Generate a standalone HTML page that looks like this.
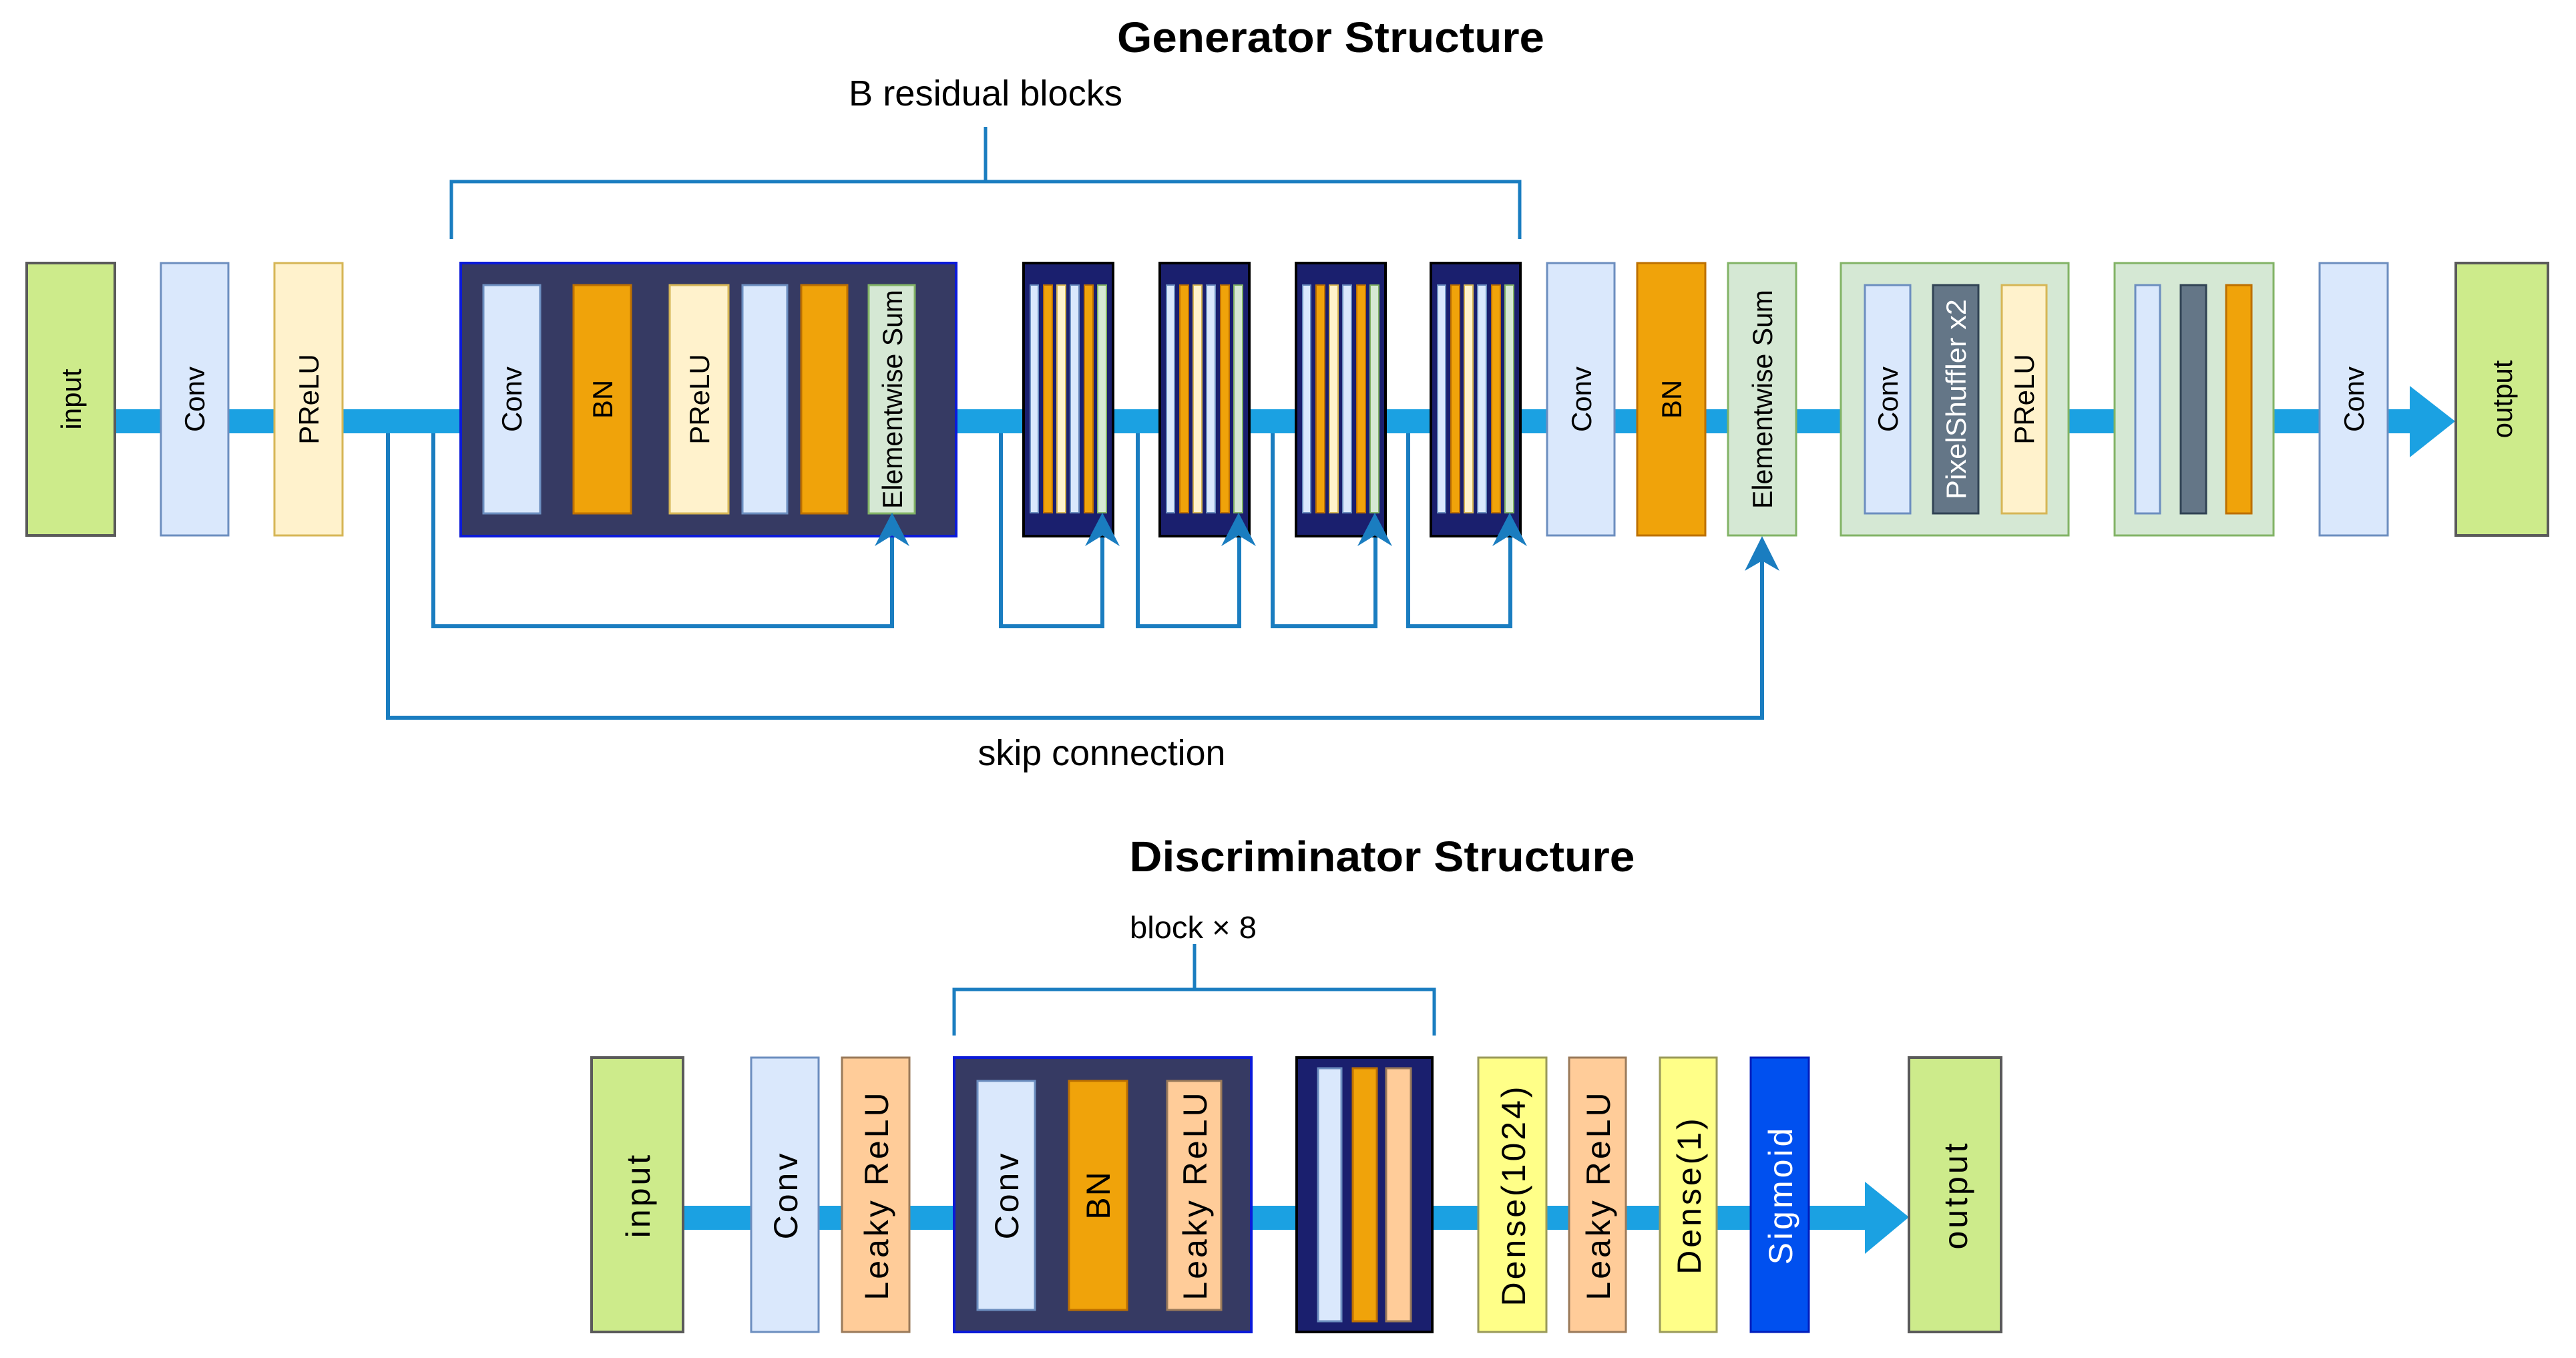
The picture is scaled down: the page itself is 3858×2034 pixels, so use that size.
<!DOCTYPE html>
<html><head><meta charset="utf-8"><style>
html,body{margin:0;padding:0;background:#fff;}
svg{display:block;}
text{font-family:"Liberation Sans",sans-serif;}
</style></head><body>
<svg width="3858" height="2034" viewBox="0 0 3858 2034" xmlns="http://www.w3.org/2000/svg">
<rect width="3858" height="2034" fill="#fff"/>

<!-- ================= GENERATOR ================= -->
<text x="1993" y="78" font-size="64" font-weight="bold" text-anchor="middle" textLength="640" lengthAdjust="spacingAndGlyphs">Generator Structure</text>
<text x="1476" y="158" font-size="54" text-anchor="middle" textLength="410" lengthAdjust="spacingAndGlyphs">B residual blocks</text>
<polyline points="676,358 676,272 2276,272 2276,358" fill="none" stroke="#1a7dc0" stroke-width="5"/>
<line x1="1476" y1="190" x2="1476" y2="272" stroke="#1a7dc0" stroke-width="5"/>

<rect x="172" y="613" width="3440" height="36" fill="#1ba1e2"/>
<polygon points="3609,578 3677,631 3609,685" fill="#1ba1e2"/>

<g fill="none" stroke="#1a7dc0" stroke-width="6">
<polyline points="649,649 649,938 1336,938 1336,790"/>
<polyline points="581,649 581,1075 2639,1075 2639,820"/>
<polyline points="1499,649 1499,938 1651,938 1651,790"/>
<polyline points="1704,649 1704,938 1856,938 1856,790"/>
<polyline points="1906,649 1906,938 2060,938 2060,790"/>
<polyline points="2109,649 2109,938 2262,938 2262,790"/>
</g>

<rect x="40" y="394" width="132" height="408" fill="#cdeb8b" stroke="#5a5a5a" stroke-width="4"/>
<text transform="translate(121,598) rotate(-90)" font-size="42" text-anchor="middle">input</text>
<rect x="241" y="394" width="101" height="408" fill="#dae8fc" stroke="#6c8ebf" stroke-width="3"/>
<text transform="translate(306,598) rotate(-90)" font-size="42" text-anchor="middle">Conv</text>
<rect x="411" y="394" width="102" height="408" fill="#fff2cc" stroke="#d6b656" stroke-width="3"/>
<text transform="translate(477,598) rotate(-90)" font-size="42" text-anchor="middle">PReLU</text>

<rect x="690" y="394" width="742" height="409" fill="#363a63" stroke="#0b1ad8" stroke-width="4"/>
<rect x="724" y="427" width="85" height="342" fill="#dae8fc" stroke="#6c8ebf" stroke-width="3"/>
<text transform="translate(781,598) rotate(-90)" font-size="42" text-anchor="middle">Conv</text>
<rect x="859" y="427" width="86" height="342" fill="#f0a30a" stroke="#bd7000" stroke-width="3"/>
<text transform="translate(917,598) rotate(-90)" font-size="42" text-anchor="middle">BN</text>
<rect x="1003" y="427" width="88" height="342" fill="#fff2cc" stroke="#d6b656" stroke-width="3"/>
<text transform="translate(1062,598) rotate(-90)" font-size="42" text-anchor="middle">PReLU</text>
<rect x="1112" y="427" width="67" height="342" fill="#dae8fc" stroke="#6c8ebf" stroke-width="3"/>
<rect x="1200" y="427" width="69" height="342" fill="#f0a30a" stroke="#bd7000" stroke-width="3"/>
<rect x="1301" y="427" width="69" height="342" fill="#d5e8d4" stroke="#82b366" stroke-width="3"/>
<text transform="translate(1351,598) rotate(-90)" font-size="42" text-anchor="middle" textLength="328" lengthAdjust="spacingAndGlyphs">Elementwise Sum</text>

<g id="sb">
<rect x="1533" y="394" width="134" height="409" fill="#1a1f6e" stroke="#000" stroke-width="4"/>
<rect x="1543" y="427" width="12" height="341" fill="#dae8fc" stroke="#6c8ebf" stroke-width="2"/>
<rect x="1563" y="427" width="13" height="341" fill="#f0a30a" stroke="#bd7000" stroke-width="2"/>
<rect x="1583" y="427" width="13" height="341" fill="#fff2cc" stroke="#d6b656" stroke-width="2"/>
<rect x="1603" y="427" width="13" height="341" fill="#dae8fc" stroke="#6c8ebf" stroke-width="2"/>
<rect x="1624" y="427" width="13" height="341" fill="#f0a30a" stroke="#bd7000" stroke-width="2"/>
<rect x="1644" y="427" width="13" height="341" fill="#d5e8d4" stroke="#82b366" stroke-width="2"/>
<polygon points="1651,768 1677,818 1651,802 1625,818" fill="#1a7dc0"/>
</g>
<use href="#sb" x="204"/>
<use href="#sb" x="408"/>
<use href="#sb" x="610"/>
<polygon points="1336,768 1362,818 1336,802 1310,818" fill="#1a7dc0"/>
<polygon points="2639,803 2665,855 2639,840 2613,855" fill="#1a7dc0"/>

<rect x="2317" y="394" width="101" height="408" fill="#dae8fc" stroke="#6c8ebf" stroke-width="3"/>
<text transform="translate(2383,598) rotate(-90)" font-size="42" text-anchor="middle">Conv</text>
<rect x="2452" y="394" width="102" height="408" fill="#f0a30a" stroke="#bd7000" stroke-width="3"/>
<text transform="translate(2518,598) rotate(-90)" font-size="42" text-anchor="middle">BN</text>
<rect x="2588" y="394" width="102" height="408" fill="#d5e8d4" stroke="#82b366" stroke-width="3"/>
<text transform="translate(2654,598) rotate(-90)" font-size="42" text-anchor="middle" textLength="328" lengthAdjust="spacingAndGlyphs">Elementwise Sum</text>

<rect x="2757" y="394" width="341" height="408" fill="#d5e8d4" stroke="#82b366" stroke-width="3"/>
<rect x="2793" y="427" width="68" height="342" fill="#dae8fc" stroke="#6c8ebf" stroke-width="3"/>
<text transform="translate(2842,598) rotate(-90)" font-size="42" text-anchor="middle">Conv</text>
<rect x="2895" y="427" width="68" height="342" fill="#647687" stroke="#314354" stroke-width="3"/>
<text transform="translate(2944,598) rotate(-90)" font-size="42" text-anchor="middle" fill="#fff" textLength="300" lengthAdjust="spacingAndGlyphs">PixelShuffler x2</text>
<rect x="2998" y="427" width="67" height="342" fill="#fff2cc" stroke="#d6b656" stroke-width="3"/>
<text transform="translate(3046,598) rotate(-90)" font-size="42" text-anchor="middle">PReLU</text>

<rect x="3167" y="394" width="238" height="408" fill="#d5e8d4" stroke="#82b366" stroke-width="3"/>
<rect x="3198" y="427" width="37" height="342" fill="#dae8fc" stroke="#6c8ebf" stroke-width="3"/>
<rect x="3266" y="427" width="38" height="342" fill="#647687" stroke="#314354" stroke-width="3"/>
<rect x="3334" y="427" width="38" height="342" fill="#f0a30a" stroke="#bd7000" stroke-width="3"/>

<rect x="3474" y="394" width="102" height="408" fill="#dae8fc" stroke="#6c8ebf" stroke-width="3"/>
<text transform="translate(3540,598) rotate(-90)" font-size="42" text-anchor="middle">Conv</text>
<rect x="3678" y="394" width="138" height="408" fill="#cdeb8b" stroke="#5a5a5a" stroke-width="4"/>
<text transform="translate(3762,598) rotate(-90)" font-size="42" text-anchor="middle">output</text>

<text x="1650" y="1146" font-size="54" text-anchor="middle" textLength="371" lengthAdjust="spacingAndGlyphs">skip connection</text>

<!-- ================= DISCRIMINATOR ================= -->
<text x="2070" y="1305" font-size="64" font-weight="bold" text-anchor="middle" textLength="757" lengthAdjust="spacingAndGlyphs">Discriminator Structure</text>
<text x="1787" y="1405" font-size="46" text-anchor="middle" textLength="190" lengthAdjust="spacingAndGlyphs">block × 8</text>
<polyline points="1429,1551 1429,1482 2148,1482 2148,1551" fill="none" stroke="#1a7dc0" stroke-width="5"/>
<line x1="1789" y1="1414" x2="1789" y2="1482" stroke="#1a7dc0" stroke-width="5"/>

<rect x="1023" y="1806" width="1780" height="36" fill="#1ba1e2"/>
<polygon points="2793,1770 2859,1823 2793,1878" fill="#1ba1e2"/>

<rect x="886" y="1584" width="137" height="411" fill="#cdeb8b" stroke="#5a5a5a" stroke-width="4"/>
<text transform="translate(973,1790) rotate(-90)" font-size="50" text-anchor="middle" letter-spacing="4">input</text>
<rect x="1125" y="1584" width="101" height="411" fill="#dae8fc" stroke="#6c8ebf" stroke-width="3"/>
<text transform="translate(1194,1790) rotate(-90)" font-size="50" text-anchor="middle" letter-spacing="4">Conv</text>
<rect x="1261" y="1584" width="101" height="411" fill="#ffcc99" stroke="#9a7a5a" stroke-width="3"/>
<text transform="translate(1330,1790) rotate(-90)" font-size="50" text-anchor="middle" letter-spacing="4">Leaky ReLU</text>

<rect x="1429" y="1584" width="445" height="411" fill="#363a63" stroke="#0b1ad8" stroke-width="4"/>
<rect x="1464" y="1619" width="86" height="343" fill="#dae8fc" stroke="#6c8ebf" stroke-width="3"/>
<text transform="translate(1525,1790) rotate(-90)" font-size="50" text-anchor="middle" letter-spacing="4">Conv</text>
<rect x="1601" y="1619" width="87" height="343" fill="#f0a30a" stroke="#bd7000" stroke-width="3"/>
<text transform="translate(1662,1790) rotate(-90)" font-size="50" text-anchor="middle" letter-spacing="2">BN</text>
<rect x="1748" y="1619" width="81" height="343" fill="#ffcc99" stroke="#9a7a5a" stroke-width="3"/>
<text transform="translate(1807,1790) rotate(-90)" font-size="50" text-anchor="middle" letter-spacing="4">Leaky ReLU</text>

<rect x="1942" y="1584" width="203" height="411" fill="#1a1f6e" stroke="#000" stroke-width="4"/>
<rect x="1974" y="1600" width="35" height="379" fill="#dae8fc" stroke="#6c8ebf" stroke-width="3"/>
<rect x="2026" y="1600" width="36" height="379" fill="#f0a30a" stroke="#bd7000" stroke-width="3"/>
<rect x="2076" y="1600" width="37" height="379" fill="#ffcc99" stroke="#9a7a5a" stroke-width="3"/>

<rect x="2214" y="1584" width="102" height="411" fill="#ffff88" stroke="#9a9a5a" stroke-width="3"/>
<text transform="translate(2284,1790) rotate(-90)" font-size="50" text-anchor="middle" letter-spacing="4">Dense(1024)</text>
<rect x="2350" y="1584" width="85" height="411" fill="#ffcc99" stroke="#9a7a5a" stroke-width="3"/>
<text transform="translate(2411,1790) rotate(-90)" font-size="50" text-anchor="middle" letter-spacing="4">Leaky ReLU</text>
<rect x="2486" y="1584" width="85" height="411" fill="#ffff88" stroke="#9a9a5a" stroke-width="3"/>
<text transform="translate(2547,1790) rotate(-90)" font-size="50" text-anchor="middle" letter-spacing="4">Dense(1)</text>
<rect x="2622" y="1584" width="87" height="411" fill="#0050ef" stroke="#001dbc" stroke-width="3"/>
<text transform="translate(2684,1790) rotate(-90)" font-size="50" text-anchor="middle" letter-spacing="4" fill="#fff">Sigmoid</text>
<rect x="2859" y="1584" width="138" height="411" fill="#cdeb8b" stroke="#5a5a5a" stroke-width="4"/>
<text transform="translate(2946,1790) rotate(-90)" font-size="50" text-anchor="middle" letter-spacing="4">output</text>
</svg>
</body></html>
